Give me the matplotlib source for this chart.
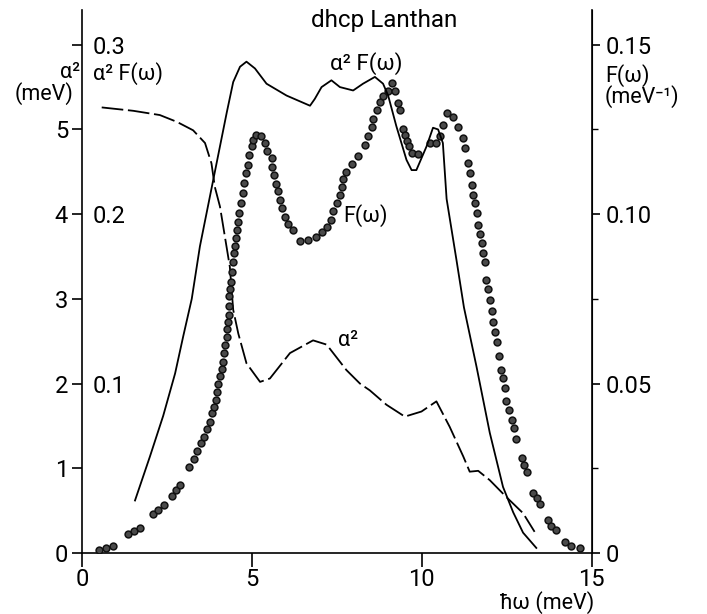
import matplotlib
matplotlib.use("Agg")
import matplotlib.pyplot as plt
from matplotlib.ticker import FixedLocator

plt.rcParams['font.family'] = ['Roboto', 'DejaVu Sans']

# ---------------- data ----------------
# alpha^2 (meV), dashed curve, left axis
alpha2_w = [0.58, 1.51, 2.29, 2.79, 3.27, 3.62, 3.81, 3.91, 4.06, 4.35, 4.45, 4.60, 4.84,
            5.24, 5.53, 6.12, 6.80, 7.20, 7.78, 8.18, 8.47, 8.96, 9.50, 9.99, 10.43,
            10.82, 11.22, 11.41, 11.66, 12.0, 12.49, 12.98, 13.32]
alpha2_v = [5.26, 5.22, 5.17, 5.09, 4.99, 4.84, 4.60, 4.32, 4.09, 3.38, 2.87, 2.59, 2.24,
            2.02, 2.06, 2.36, 2.51, 2.46, 2.16, 2.0, 1.92, 1.75, 1.61, 1.67, 1.79,
            1.49, 1.14, 0.96, 0.97, 0.86, 0.66, 0.47, 0.25]

# alpha^2 F(omega), solid curve (inner scale 0.1 / 0.2 / 0.3)
a2F_w = [1.56, 2.0, 2.39, 2.74, 2.98, 3.23, 3.47, 3.86, 4.26, 4.45, 4.65, 4.84, 5.09,
         5.43, 6.02, 6.71, 6.85, 7.05, 7.34, 7.59, 7.98, 8.27, 8.62, 8.86, 9.01, 9.25,
         9.55, 9.70, 9.84, 10.14, 10.33, 10.48, 10.62, 10.73, 11.02, 11.24, 11.61,
         12.0, 12.39, 12.69, 12.98, 13.37]
a2F_v = [0.031, 0.057, 0.081, 0.106, 0.128, 0.150, 0.181, 0.220, 0.260, 0.278, 0.287,
         0.290, 0.286, 0.277, 0.270, 0.264, 0.268, 0.275, 0.279, 0.275, 0.273, 0.277,
         0.281, 0.277, 0.270, 0.252, 0.232, 0.226, 0.226, 0.240, 0.251, 0.250, 0.242,
         0.209, 0.173, 0.145, 0.110, 0.071, 0.039, 0.024, 0.012, 0.003]

# F(omega) (meV^-1), dotted, right axis
F_w = [0.51, 0.71, 0.92, 1.36, 1.54, 1.71, 2.08, 2.25, 2.42, 2.64,
       2.76, 2.88, 3.16, 3.29, 3.39, 3.50, 3.59, 3.69, 3.76, 3.84,
       3.88, 3.94, 3.96, 4.01, 4.06, 4.11, 4.14, 4.19, 4.22, 4.27,
       4.28, 4.30, 4.32, 4.33, 4.33, 4.35, 4.38, 4.42, 4.45, 4.48,
       4.50, 4.53, 4.55, 4.58, 4.63, 4.67, 4.73, 4.77, 4.82, 4.89,
       4.92, 4.99, 5.04, 5.11, 5.26, 5.38, 5.43, 5.58, 5.60, 5.66,
       5.71, 5.77, 5.82, 5.90, 5.97, 6.07, 6.22, 6.41, 6.66, 6.90,
       7.05, 7.20, 7.34, 7.39, 7.49, 7.59, 7.64, 7.69, 7.78, 7.95,
       8.12, 8.32, 8.42, 8.52, 8.55, 8.67, 8.78, 8.86, 9.01, 9.11,
       9.21, 9.30, 9.35, 9.45, 9.50, 9.57, 9.63, 9.70, 9.89, 10.24,
       10.41, 10.53, 10.63, 10.73, 10.92, 11.07, 11.22, 11.26, 11.36, 11.43,
       11.49, 11.51, 11.56, 11.61, 11.66, 11.71, 11.76, 11.80, 11.85, 11.90,
       11.95, 12.00, 12.07, 12.10, 12.15, 12.20, 12.26, 12.34, 12.39, 12.44,
       12.49, 12.57, 12.64, 12.71, 12.76, 12.95, 13.00, 13.11, 13.27, 13.39,
       13.49, 13.70, 13.81, 13.94, 14.21, 14.40, 14.65]
F_v = [0.0010, 0.0015, 0.0022, 0.0055, 0.0065, 0.0075, 0.0115, 0.0128, 0.0142, 0.0168,
       0.0185, 0.0202, 0.0255, 0.0278, 0.0300, 0.0325, 0.0342, 0.0365, 0.0388, 0.0412,
       0.0432, 0.0452, 0.0475, 0.0500, 0.0522, 0.0542, 0.0565, 0.0590, 0.0615, 0.0638,
       0.0662, 0.0682, 0.0702, 0.0728, 0.0758, 0.0780, 0.0800, 0.0830, 0.0860, 0.0885,
       0.0905, 0.0930, 0.0952, 0.0978, 0.1002, 0.1032, 0.1062, 0.1092, 0.1120, 0.1145,
       0.1175, 0.1200, 0.1220, 0.1235, 0.1230, 0.1210, 0.1185, 0.1165, 0.1140, 0.1115,
       0.1090, 0.1068, 0.1042, 0.1018, 0.0992, 0.0970, 0.0952, 0.0922, 0.0925, 0.0932,
       0.0948, 0.0962, 0.0982, 0.1008, 0.1032, 0.1058, 0.1080, 0.1105, 0.1125, 0.1148,
       0.1172, 0.1205, 0.1232, 0.1258, 0.1282, 0.1308, 0.1332, 0.1350, 0.1362, 0.1388,
       0.1362, 0.1328, 0.1308, 0.1252, 0.1235, 0.1215, 0.1200, 0.1180, 0.1178, 0.1210,
       0.1210, 0.1230, 0.1262, 0.1298, 0.1288, 0.1258, 0.1225, 0.1195, 0.1150, 0.1120,
       0.1085, 0.1058, 0.1032, 0.1002, 0.0968, 0.0942, 0.0915, 0.0885, 0.0860, 0.0805,
       0.0778, 0.0748, 0.0715, 0.0682, 0.0652, 0.0622, 0.0580, 0.0540, 0.0515, 0.0488,
       0.0448, 0.0422, 0.0392, 0.0368, 0.0335, 0.0280, 0.0260, 0.0240, 0.0178, 0.0162,
       0.0145, 0.0098, 0.0080, 0.0068, 0.0032, 0.0022, 0.0015]

x_ticks = [0, 5, 10, 15]
left_ticks = [0, 1, 2, 3, 4, 5, 6]
left_labels = ['0', '1', '2', '3', '4', '5', '']
right_ticks = [0, 0.05, 0.10, 0.15]
right_labels = ['0', '0.05', '0.10', '0.15']
right_minor = [0.025, 0.075, 0.125]
a2F_ticks = [0.1, 0.2, 0.3]
a2F_labels = ['0.1', '0.2', '0.3']

# ---------------- figure ----------------
W, H = 707, 614
fig = plt.figure(figsize=(W / 100, H / 100), dpi=100)
left, right_edge, bottom, top = 82 / W, 591.7 / W, (H - 553) / H, (H - 10) / H
ax = fig.add_axes([left, bottom, right_edge - left, top - bottom])
ax2 = ax.twinx()
ax3 = ax.twinx()

YTOP = 6.41
ax.set_xlim(0, 15)
ax.set_ylim(0, YTOP)
ax2.set_ylim(0, YTOP * 0.025)
ax3.set_ylim(0, YTOP / 20)

# curves
dash_line, = ax.plot(alpha2_w, alpha2_v, color='black', lw=1.3)
dash_line.set_dashes([12, 2.6])
ax3.plot(a2F_w, a2F_v, color='black', lw=1.3)
ax2.plot(F_w, F_v, linestyle='none', marker='o', markersize=4.9,
         markerfacecolor='#4a4a4a', markeredgecolor='#111111', markeredgewidth=1.1)

# spines
for a in (ax, ax2, ax3):
    a.spines['top'].set_visible(False)
for s in ax3.spines.values():
    s.set_visible(False)
ax.spines['left'].set_linewidth(1.2)
ax.spines['bottom'].set_linewidth(1.2)
ax2.spines['right'].set_linewidth(1.2)
ax2.spines['left'].set_visible(False)
ax2.spines['bottom'].set_visible(False)

TICK_FS = 17
ax.set_xticks(x_ticks)
ax.set_xticklabels([str(t) for t in x_ticks], fontsize=TICK_FS)
ax.set_yticks(left_ticks)
ax.set_yticklabels(left_labels, fontsize=TICK_FS)
ax.tick_params(axis='x', direction='out', length=10, width=1.2, pad=1)
ax.tick_params(axis='y', direction='out', length=7, width=1.2, pad=3)

ax2.set_yticks(right_ticks)
ax2.set_yticklabels(right_labels, fontsize=TICK_FS)
ax2.yaxis.set_minor_locator(FixedLocator(right_minor))
ax2.tick_params(axis='y', which='major', direction='out', length=6, width=1.2, pad=4)
ax2.tick_params(axis='y', which='minor', direction='out', length=4, width=1.0)

ax3.yaxis.tick_left()
ax3.set_yticks(a2F_ticks)
ax3.set_yticklabels(a2F_labels, fontsize=TICK_FS)
ax3.tick_params(axis='y', length=0, pad=-8)
for lab in ax3.get_yticklabels():
    lab.set_horizontalalignment('left')


def ptext(px, py, s, ha='left', size=15, **kw):
    fig.text(px / W, 1 - py / H, s, ha=ha, va='center', fontsize=size, **kw)


ptext(384, 21, 'dhcp Lanthan', ha='center', size=17.5)
ptext(93, 74, 'α² F(ω)', size=15.5)
ptext(80, 72, 'α²', ha='right', size=15.5)
ptext(74, 94, '(meV)', ha='right', size=15.5)
ptext(366, 64, 'α² F(ω)', ha='center', size=16)
ptext(343, 216, 'F(ω)', size=15.5)
ptext(338, 340, 'α²', size=15.5)
ptext(605, 76, 'F(ω)', size=15.5)
ptext(605, 97, '(meV⁻¹)', size=15.5)
ptext(594, 603, 'ħω (meV)', ha='right', size=15.5)

fig.savefig('out.png', dpi=100)
